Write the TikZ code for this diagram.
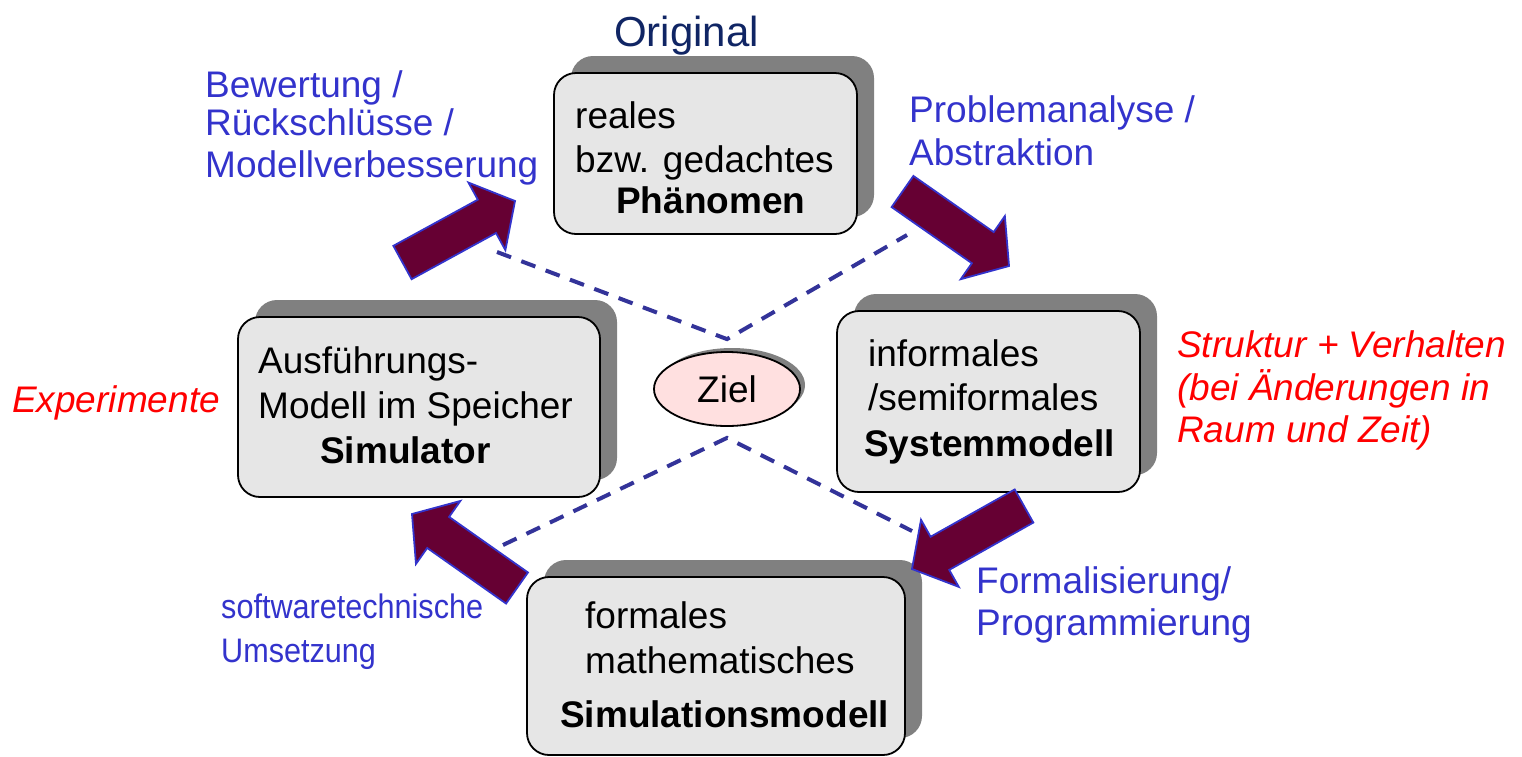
\documentclass[tikz,border=0pt]{standalone}
\usepackage{fontspec}
\setmainfont{Liberation Sans}
\newfontfamily\narrowsans[FakeStretch=0.9]{Liberation Sans}
\usetikzlibrary{calc,shadows,shapes.geometric}

\definecolor{boxfill}{RGB}{230,230,230}
\definecolor{shadowgray}{RGB}{128,128,128}
\definecolor{arrowfill}{RGB}{102,0,51}
\definecolor{arrowedge}{RGB}{51,51,204}
\definecolor{labelblue}{RGB}{51,51,204}
\definecolor{dashblue}{RGB}{51,51,153}
\definecolor{titlenavy}{RGB}{16,37,100}
\definecolor{zielfill}{RGB}{255,224,224}
\definecolor{notered}{RGB}{255,0,0}

% fat block arrow from tail #1 to tip #2, helper coordinate prefix #3
\newcommand\blockarrow[3]{%
  \coordinate (#3-h) at ($(#2)!32pt!(#1)$);
  \filldraw[fatarrow]
    ($(#1)!19pt!90:(#2)$) -- ($(#3-h)!19pt!90:(#2)$) --
    ($(#3-h)!38.5pt!90:(#2)$) -- (#2) --
    ($(#3-h)!38.5pt!-90:(#2)$) -- ($(#3-h)!19pt!-90:(#2)$) --
    ($(#1)!19pt!-90:(#2)$) -- cycle;
}

\tikzset{
  stage/.style={rectangle, draw=black, line width=1.8pt, fill=boxfill,
    rounded corners=22pt, inner sep=0pt,
    general shadow={fill=shadowgray, draw=none, shadow xshift=17pt, shadow yshift=17pt}},
  txt/.style={anchor=base west, inner sep=0pt, font=\fontsize{37}{44}\selectfont},
  bluetxt/.style={txt, text=labelblue},
  narrowtxt/.style={txt, text=labelblue, font=\narrowsans\fontsize{34}{40}\selectfont},
  redtxt/.style={txt, text=notered, font=\fontsize{37}{44}\selectfont\itshape},
  fatarrow/.style={fill=arrowfill, draw=arrowedge, line width=1.8pt, line join=miter},
  dashline/.style={draw=dashblue, line width=4pt, dash pattern=on 15pt off 11pt},
}

\begin{document}
\begin{tikzpicture}[x=1pt, y=-1pt]
\useasboundingbox (0,0) rectangle (1522,756);

% the four modelling stages
\node[stage, minimum width=303pt, minimum height=161pt] (phen) at (705.5,153.5) {};
\node[stage, minimum width=362pt, minimum height=180pt] (sim) at (419,407) {};
\node[stage, minimum width=303pt, minimum height=181pt] (sys) at (988.5,401.5) {};
\node[stage, minimum width=378pt, minimum height=178pt] (simmod) at (716,666) {};

% goal in the centre
\node[ellipse, draw=black, line width=1.8pt, fill=zielfill, inner sep=0pt,
  minimum width=146pt, minimum height=74pt,
  general shadow={fill=shadowgray, draw=none, shadow xshift=5pt, shadow yshift=4pt},
  font=\fontsize{37}{44}\selectfont] (ziel) at (727,389) {Ziel};

% dashed cross through the goal
\coordinate (zt) at ([yshift=12pt]ziel.north);
\coordinate (zb) at ([yshift=-11pt]ziel.south);
\coordinate (dul) at (497,252);
\coordinate (dur) at (907,235);
\coordinate (dll) at (503,545);
\coordinate (dlr) at (912,531);
\draw[dashline] (dul) -- (zt) -- (dur);
\draw[dashline] (dll) -- (zb) -- (dlr);

% cycle arrows
\coordinate (a1t) at (402.5,262.5); \coordinate (a1p) at (515,201);
\coordinate (a2t) at (902.5,191.5); \coordinate (a2p) at (1009,266);
\coordinate (a3t) at (1024,506);    \coordinate (a3p) at (912,569);
\coordinate (a4t) at (517,588);     \coordinate (a4p) at (412,514);
\blockarrow{a1t}{a1p}{a1}
\blockarrow{a2t}{a2p}{a2}
\blockarrow{a3t}{a3p}{a3}
\blockarrow{a4t}{a4p}{a4}

% stage texts
\node[txt, text=titlenavy, font=\fontsize{42}{50}\selectfont] (orig) at (614,46) {Original};
\node[txt] (p1) at (575,128) {reales};
\node[txt] (p2) at (575,172) {bzw. gedachtes};
\node[txt] (p3) at (616,213) {\bfseries Phänomen};

\node[txt] (s1) at (258,373) {Ausführungs-};
\node[txt] (s2) at (258,418) {Modell im Speicher};
\node[txt] (s3) at (320,463) {\bfseries Simulator};

\node[txt] (y1) at (868,366) {informales};
\node[txt] (y2) at (868,410) {/semiformales};
\node[txt] (y3) at (864,456) {\bfseries Systemmodell};

\node[txt] (m1) at (585,628) {formales};
\node[txt] (m2) at (585,673) {mathematisches};
\node[txt] (m3) at (560,727) {\bfseries Simulationsmodell};

% transition labels
\node[bluetxt] (b1) at (205,97) {Bewertung /};
\node[bluetxt] (b2) at (205,135) {Rückschlüsse /};
\node[bluetxt] (b3) at (205,177) {Modellverbesserung};

\node[bluetxt] (pa1) at (909,122) {Problemanalyse /};
\node[bluetxt] (pa2) at (909,165) {Abstraktion};

\node[bluetxt] (f1) at (976,593) {Formalisierung/};
\node[bluetxt] (f2) at (976,635) {Programmierung};

\node[narrowtxt] (u1) at (221,618) {softwaretechnische};
\node[narrowtxt] (u2) at (221,662) {Umsetzung};

% remarks
\node[redtxt] (r1) at (1177,357) {Struktur + Verhalten};
\node[redtxt] (r2) at (1177,400) {(bei Änderungen in};
\node[redtxt] (r3) at (1177,442) {Raum und Zeit)};
\node[redtxt] (ex) at (12,412) {Experimente};
\end{tikzpicture}
\end{document}
